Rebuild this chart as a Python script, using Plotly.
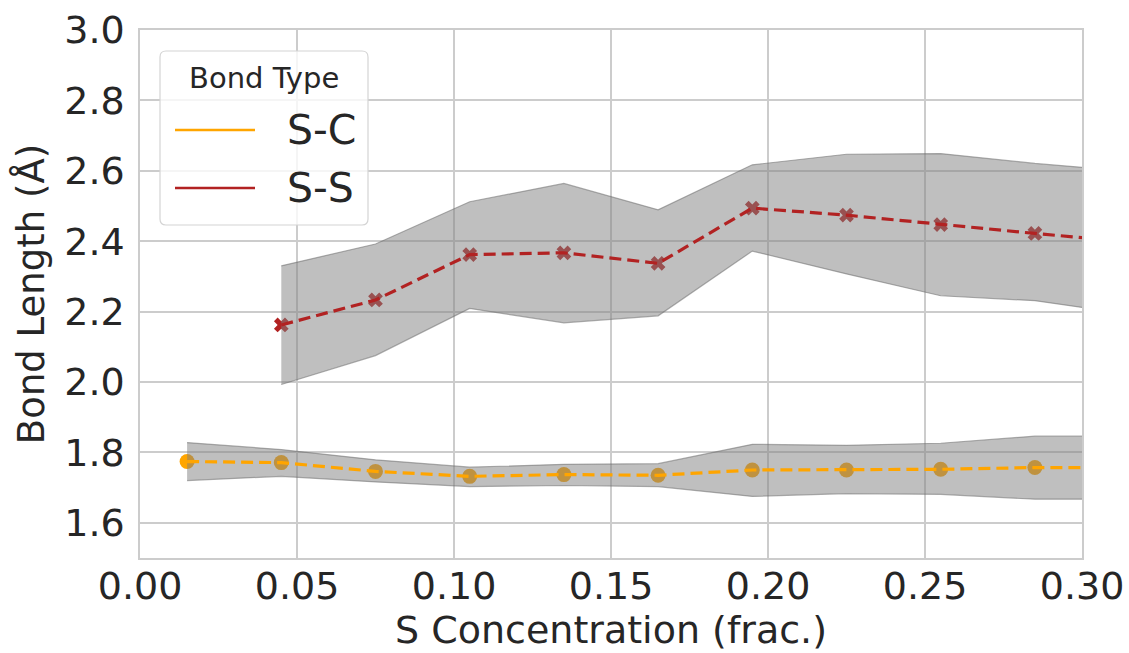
import plotly.graph_objects as go

# S concentration (fraction); the last point lies past the displayed range
conc = [0.015, 0.045, 0.075, 0.105, 0.135, 0.165, 0.195, 0.225, 0.255, 0.285, 0.315]

# S-C bond length (Å): mean and spread
sc_conc = conc
sc_mean = [1.774, 1.771, 1.746, 1.732, 1.737, 1.735, 1.750, 1.750, 1.752, 1.757, 1.757]
sc_upper = [1.828, 1.808, 1.779, 1.758, 1.766, 1.768, 1.823, 1.820, 1.826, 1.846, 1.846]
sc_lower = [1.720, 1.732, 1.716, 1.703, 1.706, 1.703, 1.675, 1.683, 1.681, 1.667, 1.667]

# S-S bond length (Å): mean and spread
ss_conc = conc[1:]
ss_mean = [2.162, 2.233, 2.362, 2.367, 2.337, 2.494, 2.474, 2.447, 2.422, 2.398]
ss_upper = [2.330, 2.392, 2.512, 2.564, 2.489, 2.617, 2.647, 2.649, 2.621, 2.599]
ss_lower = [1.993, 2.075, 2.209, 2.168, 2.188, 2.372, 2.307, 2.245, 2.231, 2.193]

x_ticks = [0.00, 0.05, 0.10, 0.15, 0.20, 0.25, 0.30]
y_ticks = [1.6, 1.8, 2.0, 2.2, 2.4, 2.6, 2.8, 3.0]

series = [
    ("S-C", sc_conc, sc_mean, sc_upper, sc_lower, "#FFA500", "circle", 15),
    ("S-S", ss_conc, ss_mean, ss_upper, ss_lower, "#B22222", "x", 13),
]

FONT = "DejaVu Sans"
TEXT = "#262626"
GRID = "#cccccc"

fig = go.Figure()

# markers sit underneath the shaded spread
for name, xs, mean, up, lo, color, symbol, size in series:
    fig.add_trace(go.Scatter(
        x=xs, y=mean, mode="markers", showlegend=False, hoverinfo="skip",
        marker=dict(symbol=symbol, size=size, color=color, line=dict(width=0)),
    ))

# shaded spread band
for name, xs, mean, up, lo, color, symbol, size in series:
    fig.add_trace(go.Scatter(
        x=list(xs) + list(xs)[::-1], y=list(up) + list(lo)[::-1],
        mode="lines", fill="toself", fillcolor="rgba(128,128,128,0.5)",
        line=dict(color="rgba(110,110,110,0.55)", width=1.2),
        showlegend=False, hoverinfo="skip",
    ))

# dashed mean lines drawn on top
for name, xs, mean, up, lo, color, symbol, size in series:
    fig.add_trace(go.Scatter(
        x=xs, y=mean, mode="lines", name=name, showlegend=False,
        line=dict(color=color, width=3.2, dash="12px,6px"),
    ))

axis_common = dict(
    showgrid=True, gridcolor=GRID, gridwidth=1.5,
    showline=True, linecolor=GRID, linewidth=1.5, mirror=True,
    ticks="", zeroline=False, automargin=False,
    tickfont=dict(family=FONT, size=38, color=TEXT),
)

fig.update_xaxes(
    range=[0, 0.30], tickvals=x_ticks, tickformat=".2f",
    title=dict(text="S Concentration (frac.)", font=dict(family=FONT, size=38, color=TEXT), standoff=4),
    ticklabelstandoff=-6,
    **axis_common,
)
fig.update_yaxes(
    range=[1.5, 3.0], tickvals=y_ticks, tickformat=".1f",
    title=dict(text="Bond Length (Å)", font=dict(family=FONT, size=37, color=TEXT), standoff=8),
    ticklabelstandoff=6,
    **axis_common,
)

# legend box
px_w, px_h = 942, 528
x0, x1 = 20 / px_w, 228 / px_w
yt, yb = 507 / px_h, 333 / px_h
rx, ry = 6 / px_w, 6 / px_h
path = (f"M{x0+rx},{yt} L{x1-rx},{yt} Q{x1},{yt} {x1},{yt-ry} L{x1},{yb+ry} "
        f"Q{x1},{yb} {x1-rx},{yb} L{x0+rx},{yb} Q{x0},{yb} {x0},{yb+ry} "
        f"L{x0},{yt-ry} Q{x0},{yt} {x0+rx},{yt} Z")
shapes = [dict(type="path", xref="paper", yref="paper", path=path,
               fillcolor="rgba(255,255,255,0.8)", line=dict(color="#d4d4d4", width=1.2),
               layer="above")]
annotations = [dict(xref="paper", yref="paper", x=124 / px_w, y=480 / px_h,
                    text="Bond Type", showarrow=False, xanchor="center", yanchor="middle",
                    font=dict(family=FONT, size=29, color=TEXT))]
for (name, xs, mean, up, lo, color, symbol, size), ly in zip(series, [428, 370]):
    shapes.append(dict(type="line", xref="paper", yref="paper",
                       x0=35 / px_w, x1=115 / px_w, y0=ly / px_h, y1=ly / px_h,
                       line=dict(color=color, width=2.5), layer="above"))
    annotations.append(dict(xref="paper", yref="paper", x=145 / px_w, y=ly / px_h,
                            text=name, showarrow=False, xanchor="left", yanchor="middle",
                            font=dict(family=FONT, size=41, color=TEXT)))

fig.update_layout(
    width=1129, height=653,
    margin=dict(l=140, r=47, t=30, b=95),
    plot_bgcolor="white", paper_bgcolor="white",
    showlegend=False,
    shapes=shapes, annotations=annotations,
    font=dict(family=FONT, color=TEXT),
)

fig.write_html("out.html")
